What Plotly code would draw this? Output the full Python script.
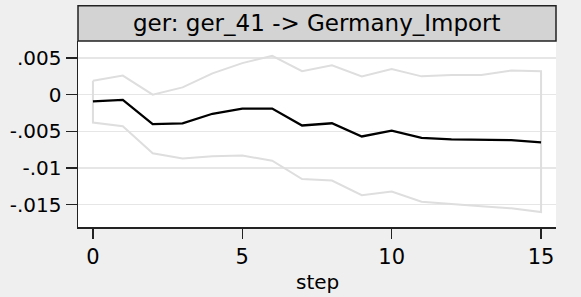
import plotly.graph_objects as go

# ---- data ----
steps = list(range(16))
irf = [-0.0009, -0.0007, -0.0040, -0.0039, -0.0026, -0.0019, -0.0019, -0.0042,
       -0.0039, -0.0057, -0.0049, -0.0059, -0.0061, -0.0061, -0.0062, -0.0065]
upper = [0.0019, 0.0026, 0.0000, 0.0010, 0.0029, 0.0043, 0.0053, 0.0032,
         0.0040, 0.0025, 0.0035, 0.0025, 0.0027, 0.0027, 0.0033, 0.0032]
lower = [-0.0038, -0.0043, -0.0080, -0.0087, -0.0084, -0.0083, -0.0090, -0.0115,
         -0.0117, -0.0137, -0.0132, -0.0146, -0.0149, -0.0152, -0.0155, -0.0160]

y_tickvals = [0.005, 0.0, -0.005, -0.01, -0.015]
y_ticktext = [".005", "0", "-.005", "-.01", "-.015"]
x_tickvals = [0, 5, 10, 15]
x_ticktext = ["0", "5", "10", "15"]

panel_title = "ger: ger_41 -> Germany_Import"
x_title = "step"

FONT = "DejaVu Sans"
W, H = 581, 297
ml, mr, mt, mb = 78, 25, 41, 70
plot_h = H - mt - mb

# closed CI band outline (upper forward, lower backward, closing at step 0)
ci_x = steps + steps[::-1] + [steps[0]]
ci_y = upper + lower[::-1] + [upper[0]]

fig = go.Figure()
fig.add_trace(go.Scatter(x=ci_x, y=ci_y, mode="lines",
                         line=dict(color="#dedede", width=2),
                         hoverinfo="skip", showlegend=False))
fig.add_trace(go.Scatter(x=steps, y=irf, mode="lines",
                         line=dict(color="#000000", width=2.3),
                         showlegend=False))

# header strip
fig.add_shape(type="rect", xref="paper", yref="paper",
              x0=0, x1=1, y0=1, y1=1 + 35.3 / plot_h,
              fillcolor="#d3d3d3", line=dict(color="#222222", width=1.5),
              layer="above")
fig.add_annotation(xref="paper", yref="paper", x=0.5, y=1 + 17.6 / plot_h,
                   text=panel_title, showarrow=False,
                   font=dict(family=FONT, size=23, color="#000000"),
                   xanchor="center", yanchor="middle")
# x axis title
fig.add_annotation(xref="paper", yref="paper", x=0.5, y=-54.7 / plot_h,
                   text=x_title, showarrow=False,
                   font=dict(family=FONT, size=20, color="#000000"),
                   xanchor="center", yanchor="middle")

fig.update_layout(
    width=W, height=H,
    margin=dict(l=ml, r=mr, t=mt, b=mb, pad=0, autoexpand=False),
    paper_bgcolor="#efefef",
    plot_bgcolor="#ffffff",
    font=dict(family=FONT, color="#000000"),
    xaxis=dict(range=[-0.5, 15.5], tickvals=x_tickvals, ticktext=x_ticktext,
               showgrid=False, zeroline=False, automargin=False,
               showline=True, linecolor="#222222", linewidth=1.5,
               ticks="outside", ticklen=10, tickwidth=1.5, tickcolor="#222222",
               tickfont=dict(family=FONT, size=21)),
    yaxis=dict(range=[-0.01804, 0.00732], tickvals=y_tickvals, ticktext=y_ticktext,
               showgrid=True, gridcolor="#e6e6e6", gridwidth=1.5, zeroline=False,
               automargin=False,
               showline=True, linecolor="#222222", linewidth=1.5,
               ticks="outside", ticklen=11, tickwidth=1.5, tickcolor="#222222",
               tickfont=dict(family=FONT, size=20)),
)

fig.write_html("out.html",
               config={"displayModeBar": False, "staticPlot": True},
               post_script="document.body.style.margin='0px';"
                           "document.body.style.overflow='hidden';")
